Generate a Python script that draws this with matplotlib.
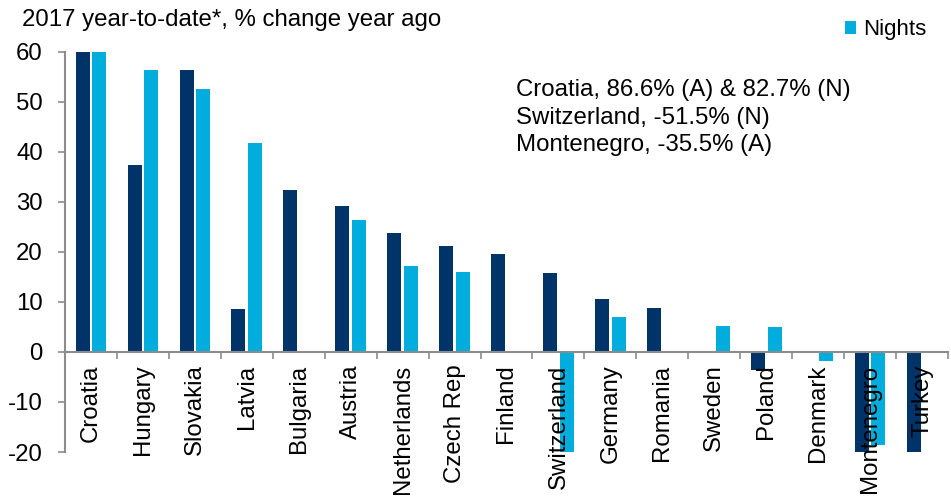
import matplotlib
matplotlib.use("Agg")
import matplotlib.pyplot as plt
import numpy as np

plt.rcParams['font.family'] = ['Liberation Sans', 'DejaVu Sans']
plt.rcParams['axes.unicode_minus'] = False

countries = ["Croatia", "Hungary", "Slovakia", "Latvia", "Bulgaria", "Austria",
             "Netherlands", "Czech Rep", "Finland", "Switzerland", "Germany",
             "Romania", "Sweden", "Poland", "Denmark", "Montenegro", "Turkey"]
# % change year ago; Croatia, Switzerland (N) and Montenegro (A) run off the scale
arrivals = [86.6, 37.4, 56.4, 8.6, 32.4, 29.2, 23.8, 21.2, 19.6, 15.8, 10.6,
            8.8, np.nan, -3.5, np.nan, -35.5, -20.5]
nights = [82.7, 56.4, 52.6, 41.8, np.nan, 26.4, 17.2, 16.0, np.nan, -51.5, 7.0,
          np.nan, 5.2, 5.0, -1.7, -18.5, np.nan]
yticks = [-20, -10, 0, 10, 20, 30, 40, 50, 60]
notes = ["Croatia, 86.6% (A) & 82.7% (N)",
         "Switzerland, -51.5% (N)",
         "Montenegro, -35.5% (A)"]

navy = "#003468"
cyan = "#00addc"
grey = "#8c8c8c"
fs = 17.3

fig = plt.figure(figsize=(9.51, 4.98), dpi=100)
ax = fig.add_axes([65 / 951, 1 - 452 / 498, 883 / 951, 400 / 498])

x = np.arange(len(countries))
w = 0.27
ax.bar(x - 0.16, arrivals, w, color=navy, label="Arrivals", zorder=1)
nb = ax.bar(x + 0.16, nights, w, color=cyan, label="Nights", zorder=1)

ax.set_xlim(-0.5, len(countries) - 0.5)
ax.set_ylim(-20, 60)
ax.set_yticks(yticks)
ax.tick_params(axis='y', direction='out', length=5, width=1.2, color=grey,
               pad=11, labelsize=fs)

# category labels hang under the zero line, ticks sit between categories
ax.spines['bottom'].set_position(('data', 0))
ax.set_xticks(x)
ax.set_xticklabels(countries, rotation=90, fontsize=fs, va='top')
ax.tick_params(axis='x', which='major', length=0, pad=9)
ax.set_xticks(np.arange(len(countries) + 1) - 0.5, minor=True)
ax.tick_params(axis='x', which='minor', length=5, width=1.2, color=grey,
               direction='out')

for s in ['top', 'right']:
    ax.spines[s].set_visible(False)
for s in ['left', 'bottom']:
    ax.spines[s].set_color(grey)
    ax.spines[s].set_linewidth(1.5)

fig.text(22 / 951, 1 - 20 / 498, "2017 year-to-date*, % change year ago",
         fontsize=fs, va='center', ha='left')

for i, t in enumerate(notes):
    fig.text(516 / 951, 1 - (90 + 27.5 * i) / 498, t, fontsize=fs,
             va='center', ha='left')

fig.legend(handles=[nb], loc='center left', bbox_to_anchor=(845 / 951, 1 - 30 / 498),
           frameon=False, fontsize=16, handlelength=0.5, handleheight=0.5,
           handletextpad=0.3, borderpad=0, borderaxespad=0)

fig.savefig("out.png", dpi=100)
